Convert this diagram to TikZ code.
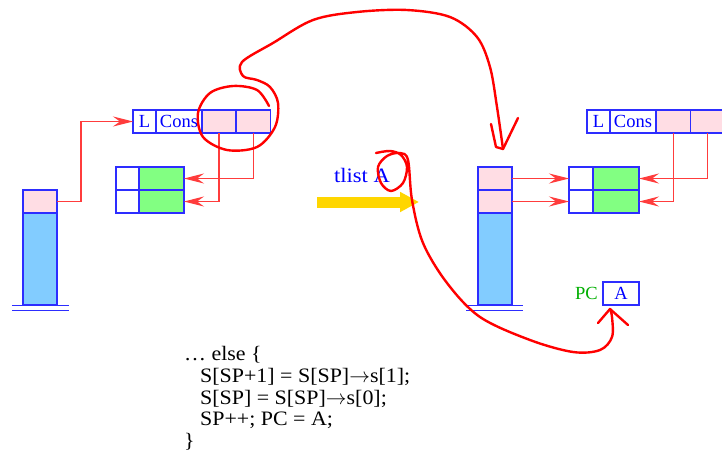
\documentclass[tikz,border=0pt]{standalone}
\usepackage{fontspec}
\setmainfont{Liberation Serif}
\newfontfamily\widefont[FakeStretch=1.07]{Liberation Serif}
\newfontfamily\widerfont[FakeStretch=1.1]{Liberation Serif}
\usetikzlibrary{arrows.meta}

\definecolor{cellblue}{RGB}{45,45,255}
\definecolor{pinkfill}{RGB}{255,221,228}
\definecolor{stackfill}{RGB}{130,204,255}
\definecolor{greenfill}{RGB}{130,255,130}
\definecolor{linkred}{RGB}{255,60,60}
\definecolor{goldarrow}{RGB}{255,214,0}
\definecolor{pcgreen}{RGB}{0,175,0}

\begin{document}
\begin{tikzpicture}[x=1pt,y=-1pt,
  boxcell/.style={draw=cellblue, line width=1.2pt, inner sep=0pt, outer sep=0pt,
    minimum height=23pt, text=blue, font=\fontsize{18.5}{18.5}\selectfont},
  pinkcell/.style={boxcell, fill=pinkfill, minimum width=34pt},
  whitecell/.style={boxcell, fill=white, minimum width=23pt},
  greencell/.style={boxcell, fill=greenfill, minimum width=45pt},
  stackcell/.style={boxcell, fill=stackfill, minimum width=34pt, minimum height=92pt},
  link/.style={draw=linkred, line width=1.1pt, -{Stealth[length=20pt,width=10pt,inset=7pt]}},
  groundline/.style={draw=cellblue, line width=1pt},
  scribble/.style={draw=red, line width=2.4pt, line cap=round, line join=round},
  bigtext/.style={inner sep=0pt, font=\widefont\fontsize{20.5}{21.8}\selectfont}]

\clip (0,0) rectangle (722,455);
\fill[white] (0,0) rectangle (722,455);

% ---------- left state: stack ----------
\node[pinkcell]  (ls1) at (40,201.5) {};
\node[stackcell] (ls0) at (40,259) {};
\draw[groundline] ([xshift=-11pt]ls0.south west) -- ([xshift=12pt]ls0.south east);
\draw[groundline] ([xshift=-11pt,yshift=-5pt]ls0.south west) -- ([xshift=12pt,yshift=-5pt]ls0.south east);

% ---------- left state: cons record ----------
\node[whitecell] (lL)    at (144.5,121.5) {L};
\node[whitecell, minimum width=46pt] (lCons) at (179,121.5) {Cons};
\node[pinkcell]  (lp0)   at (219,121.5) {};
\node[pinkcell]  (lp1)   at (253.5,121.5) {};

% ---------- left state: two-slot table ----------
\node[whitecell] (lw0) at (127.5,178.5) {};
\node[greencell] (lg0) at (161.5,178.5) {};
\node[whitecell] (lw1) at (127.5,201.5) {};
\node[greencell] (lg1) at (161.5,201.5) {};

\draw[link] (ls1.east) -- ++(24,0) |- (lL.west);
\draw[link] (lp0.south) |- (lg1.east);
\draw[link] (lp1.south) |- (lg0.east);

% ---------- transition ----------
\node[inner sep=0pt, text=blue, font=\widerfont\fontsize{20.5}{20.5}\selectfont] (tl) at (362,175) {tlist A};
\coordinate (ya) at (317,202);
\coordinate (yb) at (419,202);
\draw[draw=goldarrow, line width=11pt, -{Triangle[length=19pt,width=19pt]}] (ya) -- (yb);

% ---------- right state: stack ----------
\node[pinkcell]  (rs1) at (495,178.5) {};
\node[pinkcell]  (rs0) at (495,201.5) {};
\node[stackcell] (rsb) at (495,259) {};
\draw[groundline] ([xshift=-12pt]rsb.south west) -- ([xshift=11pt]rsb.south east);
\draw[groundline] ([xshift=-12pt,yshift=-5pt]rsb.south west) -- ([xshift=11pt,yshift=-5pt]rsb.south east);

% ---------- right state: table ----------
\node[whitecell, minimum width=24pt] (rw0) at (581,178.5) {};
\node[greencell, minimum width=46pt] (rg0) at (616,178.5) {};
\node[whitecell, minimum width=24pt] (rw1) at (581,201.5) {};
\node[greencell, minimum width=46pt] (rg1) at (616,201.5) {};

% ---------- right state: cons record ----------
\node[whitecell] (rL)    at (598.5,121.5) {L};
\node[whitecell, minimum width=46pt] (rCons) at (633,121.5) {Cons};
\node[pinkcell]  (rp0)   at (673.3,121.5) {};
\node[pinkcell]  (rp1)   at (707.8,121.5) {};

\draw[link] (rs1.east) -- (rw0.west);
\draw[link] (rs0.east) -- (rw1.west);
\draw[link] (rp0.south) |- (rg1.east);
\draw[link] (rp1.south) |- (rg0.east);

% ---------- program counter ----------
\node[inner sep=0pt, text=pcgreen, font=\fontsize{18.5}{18.5}\selectfont] (pc) at (586.5,293.5) {PC};
\node[whitecell, minimum width=36pt] (pcA) at (621,293.5) {A};

% ---------- code ----------
\node[bigtext, anchor=north west, align=left] (code) at (184,346)
  {\ldots{} else \{\\
   \hspace*{16pt}S[SP+1] = S[SP]$\rightarrow$s[1];\\
   \hspace*{16pt}S[SP] = S[SP]$\rightarrow$s[0];\\
   \hspace*{16pt}SP++; PC = A;\\
   \}};

% ---------- hand-drawn annotations ----------
\draw[scribble] plot[smooth, tension=0.55] coordinates {
  (269,106) (257,90) (233,86) (210,93) (198,113) (203,137) (227,150)
  (257,147) (275,127) (278,103) (270,87) (257,80) (243,76) (242,62)
  (273,43) (313,20) (357,12) (407,10) (450,17) (477,37) (490,67)
  (497,107) (503,149)};
\draw[scribble] (491,124) -- (496,147) -- (503,149) -- (518,118);

\draw[scribble] plot[smooth, tension=0.55] coordinates {
  (376,153) (390,151) (401,155) (407,167) (403,183) (391,191) (381,183)
  (378,167) (387,156) (400,153) (408,160) (412,200) (423,243) (447,283)
  (480,317) (530,340) (573,352) (600,350) (612,337) (612,317) (610,309)};
\draw[scribble] (598,323) -- (610,309) -- (628,325);
\end{tikzpicture}
\end{document}
